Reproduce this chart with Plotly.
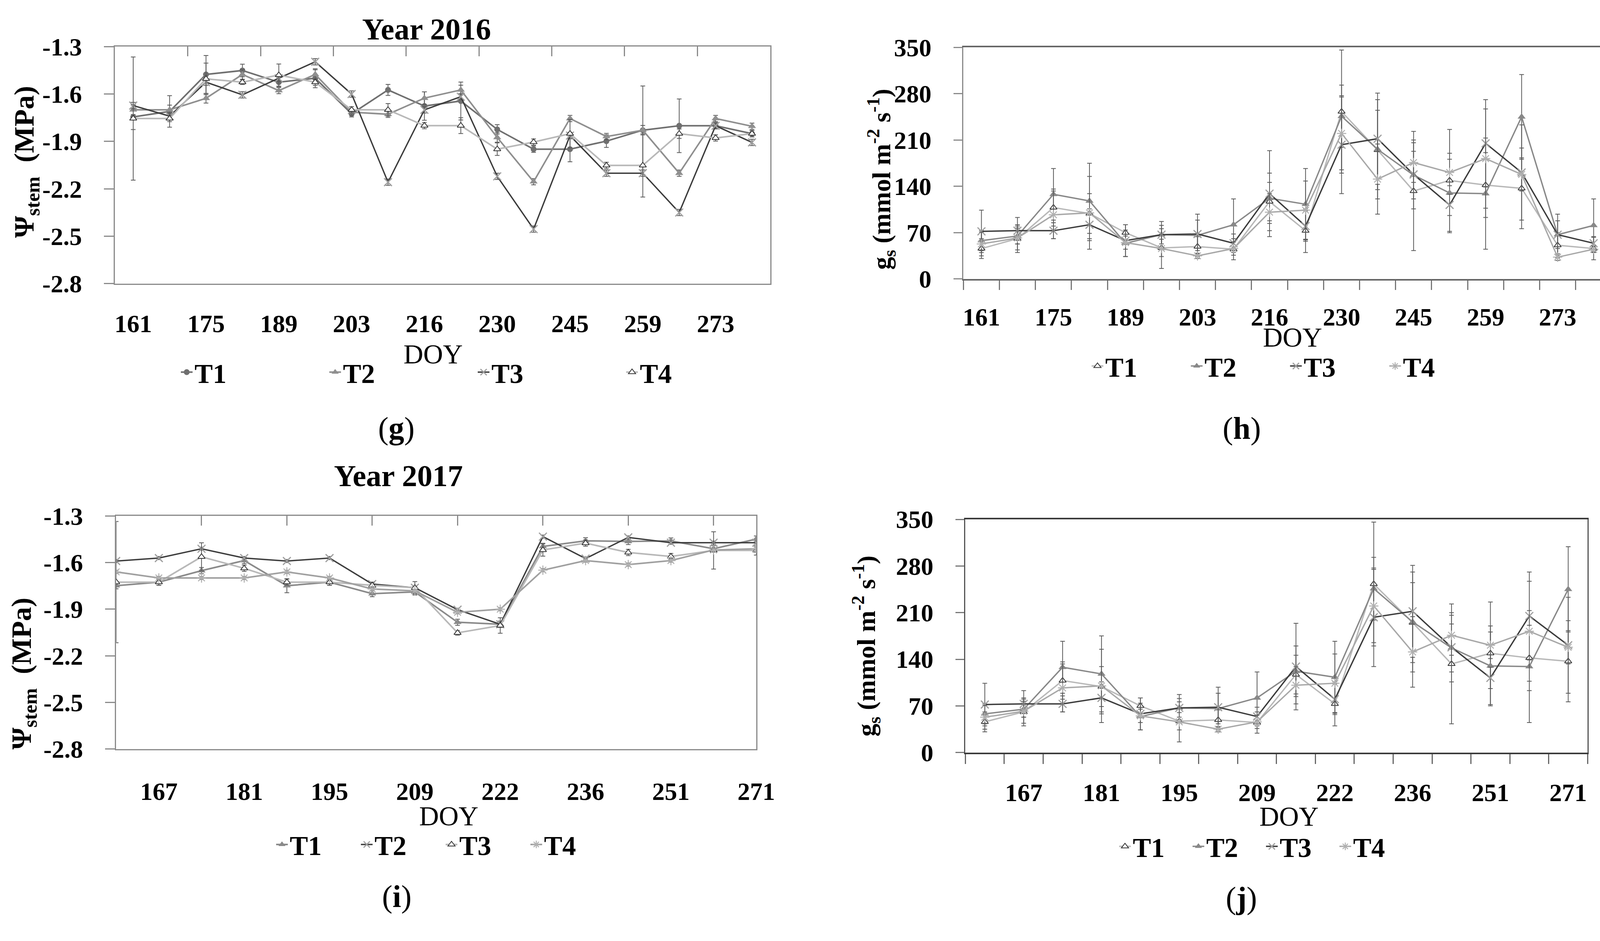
import plotly.graph_objects as go

W, H = 4200, 2408
FONT = "Liberation Serif"

# ---------------- data ----------------
doy_2016 = [161, 168, 175, 182, 189, 196, 203, 210, 216, 223, 230, 237, 245, 252, 259, 266, 273, 280]
doy_2017 = [160, 167, 174, 181, 188, 195, 202, 209, 216, 222, 229, 236, 243, 251, 262, 271]
shown_2016 = [161, 175, 189, 203, 216, 230, 245, 259, 273]
shown_2017 = [167, 181, 195, 209, 222, 236, 251, 271]
psi_ticks = [-2.8, -2.5, -2.2, -1.9, -1.6, -1.3]
gs_ticks = [0, 70, 140, 210, 280, 350]

# (g) stem water potential 2016 (MPa)
psi16_T1 = [-1.745, -1.71, -1.476, -1.451, -1.525, -1.50, -1.725, -1.574, -1.676, -1.644, -1.824, -1.949, -1.949, -1.898, -1.829, -1.801, -1.801, -1.851]
psi16_T2 = [-1.70, -1.70, -1.627, -1.476, -1.578, -1.476, -1.715, -1.728, -1.626, -1.574, -1.875, -2.155, -1.755, -1.869, -1.829, -2.101, -1.755, -1.804]
psi16_T3 = [-1.673, -1.74, -1.525, -1.605, -1.50, -1.396, -1.60, -2.158, -1.70, -1.617, -2.121, -2.455, -1.863, -2.101, -2.101, -2.35, -1.801, -1.906]
psi16_T4 = [-1.755, -1.755, -1.504, -1.525, -1.48, -1.525, -1.70, -1.70, -1.80, -1.80, -1.949, -1.904, -1.851, -2.052, -2.052, -1.851, -1.878, -1.851]
psi16_T1_err = [0.08, 0.10, 0.12, 0.04, 0.03, 0.06, 0.02, 0.035, 0.09, 0.12, 0.03, 0.02, 0.08, 0.04, 0.28, 0.17, 0.02, 0.02]
psi16_T2_err = [0.03, 0.03, 0.03, 0.03, 0.02, 0.03, 0.02, 0.02, 0.04, 0.03, 0.03, 0.02, 0.02, 0.02, 0.03, 0.02, 0.02, 0.02]
psi16_T3_err = [0.02, 0.02, 0.02, 0.02, 0.02, 0.02, 0.02, 0.02, 0.02, 0.02, 0.02, 0.02, 0.02, 0.02, 0.02, 0.02, 0.02, 0.02]
psi16_T4_err = [0.39, 0.02, 0.10, 0.015, 0.07, 0.02, 0.02, 0.04, 0.02, 0.05, 0.04, 0.02, 0.09, 0.02, 0.20, 0.03, 0.02, 0.02]

# (h) stomatal conductance 2016 (mmol m-2 s-1)
gs16_T1 = [46, 61, 108, 99, 70, 47, 49, 45, 117, 73, 253, 195, 133, 149, 142, 137, 51, 46]
gs16_T2 = [58, 65, 128, 118, 54, 67, 66, 82, 122, 113, 246, 196, 157, 130, 129, 245, 67, 81]
gs16_T3 = [72, 73, 73, 82, 58, 67, 68, 54, 129, 80, 203, 212, 158, 112, 205, 161, 67, 54]
gs16_T4 = [53, 62, 97, 100, 55, 46, 35, 46, 101, 104, 220, 151, 176, 161, 182, 158, 33, 45]
gs16_T1_err = [15, 21, 28, 30, 12, 13, 15, 16, 29, 33, 93, 60, 90, 77, 49, 61, 19, 17]
gs16_T2_err = [15, 12, 39, 57, 20, 14, 23, 39, 38, 54, 47, 75, 36, 60, 84, 64, 21, 40]
gs16_T3_err = [32, 20, 12, 24, 24, 20, 30, 14, 65, 23, 74, 69, 52, 16, 66, 72, 31, 10]
gs16_T4_err = [18, 18, 36, 55, 10, 30, 4, 10, 28, 44, 55, 53, 30, 20, 75, 25, 5, 5]

# (i) stem water potential 2017 (MPa)
psi17_T1 = [-1.749, -1.726, -1.652, -1.587, -1.749, -1.726, -1.80, -1.789, -1.984, -1.997, -1.496, -1.46, -1.464, -1.461, -1.511, -1.449]
psi17_T2 = [-1.59, -1.571, -1.511, -1.571, -1.59, -1.571, -1.738, -1.762, -1.903, -1.997, -1.433, -1.574, -1.438, -1.472, -1.472, -1.472]
psi17_T3 = [-1.726, -1.726, -1.563, -1.637, -1.726, -1.726, -1.746, -1.762, -2.052, -2.005, -1.519, -1.475, -1.535, -1.561, -1.522, -1.522]
psi17_T4 = [-1.66, -1.699, -1.699, -1.699, -1.66, -1.699, -1.77, -1.782, -1.92, -1.90, -1.649, -1.587, -1.613, -1.587, -1.519, -1.511]
psi17_T1_err = [0.02, 0.02, 0.02, 0.02, 0.045, 0.02, 0.02, 0.02, 0.02, 0.02, 0.02, 0.02, 0.02, 0.02, 0.02, 0.02]
psi17_T2_err = [0.01, 0.01, 0.01, 0.01, 0.01, 0.01, 0.01, 0.01, 0.01, 0.01, 0.01, 0.01, 0.01, 0.01, 0.01, 0.01]
psi17_T3_err = [0.39, 0.02, 0.09, 0.02, 0.02, 0.02, 0.02, 0.04, 0.015, 0.05, 0.04, 0.02, 0.02, 0.02, 0.12, 0.03]
psi17_T4_err = [0.01, 0.01, 0.01, 0.01, 0.01, 0.01, 0.01, 0.01, 0.01, 0.01, 0.01, 0.01, 0.01, 0.01, 0.01, 0.01]

# (j) stomatal conductance 2017 (mmol m-2 s-1)
gs17_T1 = [46, 61, 108, 99, 70, 47, 49, 45, 117, 73, 253, 195, 133, 149, 142, 137]
gs17_T2 = [58, 65, 128, 118, 54, 67, 66, 82, 122, 113, 246, 196, 157, 130, 129, 245]
gs17_T3 = [72, 73, 73, 82, 58, 67, 68, 54, 129, 80, 203, 212, 158, 112, 205, 161]
gs17_T4 = [53, 62, 97, 100, 55, 46, 35, 46, 101, 104, 220, 151, 176, 161, 182, 158]
gs17_T1_err = [15, 21, 28, 30, 12, 13, 15, 16, 29, 33, 93, 60, 90, 77, 49, 61]
gs17_T2_err = [15, 12, 39, 57, 20, 14, 23, 39, 38, 54, 47, 75, 36, 60, 84, 64]
gs17_T3_err = [32, 20, 12, 24, 24, 20, 30, 14, 65, 23, 74, 69, 52, 16, 66, 72]
gs17_T4_err = [18, 18, 36, 55, 10, 30, 4, 10, 28, 44, 55, 53, 30, 20, 75, 25]

# ---------------- helpers ----------------
# small empirical correction so that positions land where they are in the reference photo
OFF_X, SC_X = 9.0, 0.997
OFF_Y, SC_Y = 37.6, 0.994

def X(x):
    return (x - OFF_X) / SC_X

def Y(y):
    return (y - OFF_Y) / SC_Y

def px(x):
    return X(x) / W

def py(y):
    return 1 - Y(y) / H

def dom_x(l, r):
    return [px(l), px(r)]

def dom_y(t, b):
    return [py(b), py(t)]

def m_circle(c):
    return dict(symbol="circle", size=15, color=c, line=dict(width=0))

def m_tri(c):
    return dict(symbol="triangle-up", size=18, color=c, line=dict(width=0))

def m_tri_open():
    return dict(symbol="triangle-up", size=16, color="white", line=dict(color="#333333", width=2))

def m_x(c):
    return dict(symbol="x-thin", size=20, color=c, line=dict(color=c, width=3))

def m_ast(c):
    return dict(symbol="asterisk", size=20, color=c, line=dict(color=c, width=2.5))

fig = go.Figure()

def add(xa, ya, leg, name, xs, ys, err, color, marker, lw=4):
    fig.add_trace(go.Scatter(
        x=xs, y=ys, mode="lines+markers", name=name,
        xaxis=xa, yaxis=ya, legend=leg,
        line=dict(color=color, width=lw),
        marker=marker,
        error_y=dict(type="data", array=err, visible=True, color="#5a5a5a", thickness=2, width=6),
        hoverinfo="skip"))

x16 = list(range(len(doy_2016)))
x17 = list(range(len(doy_2017)))
XMARK = "#a0a0a0"

# (g)
add("x", "y", "legend", "T1", x16, psi16_T1, psi16_T1_err, "#6f6f6f", m_circle("#6f6f6f"))
add("x", "y", "legend", "T2", x16, psi16_T2, psi16_T2_err, "#8f8f8f", m_tri("#8f8f8f"))
add("x", "y", "legend", "T3", x16, psi16_T3, psi16_T3_err, "#3c3c3c", m_x(XMARK), lw=3.5)
add("x", "y", "legend", "T4", x16, psi16_T4, psi16_T4_err, "#b8b8b8", m_tri_open())

# (h)
add("x2", "y2", "legend2", "T1", x16, gs16_T1, gs16_T1_err, "#b8b8b8", m_tri_open(), lw=3.5)
add("x2", "y2", "legend2", "T2", x16, gs16_T2, gs16_T2_err, "#888888", m_tri("#888888"), lw=3.5)
add("x2", "y2", "legend2", "T3", x16, gs16_T3, gs16_T3_err, "#3c3c3c", m_x(XMARK), lw=3.5)
add("x2", "y2", "legend2", "T4", x16, gs16_T4, gs16_T4_err, "#a8a8a8", m_ast("#b0b0b0"), lw=3.5)

# (i)
add("x3", "y3", "legend3", "T1", x17, psi17_T1, psi17_T1_err, "#8a8a8a", m_tri("#8a8a8a"))
add("x3", "y3", "legend3", "T2", x17, psi17_T2, psi17_T2_err, "#3c3c3c", m_x(XMARK), lw=3.5)
add("x3", "y3", "legend3", "T3", x17, psi17_T3, psi17_T3_err, "#b8b8b8", m_tri_open())
add("x3", "y3", "legend3", "T4", x17, psi17_T4, psi17_T4_err, "#a0a0a0", m_ast("#b0b0b0"))

# (j)
add("x4", "y4", "legend4", "T1", x17, gs17_T1, gs17_T1_err, "#b8b8b8", m_tri_open(), lw=3.5)
add("x4", "y4", "legend4", "T2", x17, gs17_T2, gs17_T2_err, "#888888", m_tri("#888888"), lw=3.5)
add("x4", "y4", "legend4", "T3", x17, gs17_T3, gs17_T3_err, "#3c3c3c", m_x(XMARK), lw=3.5)
add("x4", "y4", "legend4", "T4", x17, gs17_T4, gs17_T4_err, "#a8a8a8", m_ast("#b0b0b0"), lw=3.5)

# invisible carriers for the top tick-mark axes of (g) and (i)
fig.add_trace(go.Scatter(x=x16, y=psi16_T1, xaxis="x5", yaxis="y", mode="markers",
                         marker=dict(opacity=0), showlegend=False, hoverinfo="skip"))
fig.add_trace(go.Scatter(x=x17, y=psi17_T1, xaxis="x6", yaxis="y3", mode="markers",
                         marker=dict(opacity=0), showlegend=False, hoverinfo="skip"))

tickfont = dict(family=FONT, size=64, color="black", weight="bold")
GRAY = "#8a8a8a"

lab16_idx = [doy_2016.index(d) for d in shown_2016]
lab17_idx = [doy_2017.index(d) for d in shown_2017]
psi_text = ["%.1f" % v for v in psi_ticks]   # plain hyphen-minus like the original
gs_text = [str(v) for v in gs_ticks]

common_x = dict(showgrid=False, zeroline=False, tickfont=tickfont, tickmode="array")
common_y = dict(showgrid=False, zeroline=False, tickfont=tickfont, ticks="outside",
                ticklen=25, tickwidth=3, showline=True, mirror=True, tickmode="array")

fig.update_layout(
    width=W, height=H, autosize=False,
    margin=dict(l=0, r=0, t=0, b=0),
    paper_bgcolor="white", plot_bgcolor="white",
    font=dict(family=FONT, color="black"),
    # (g)
    xaxis=dict(common_x, domain=dom_x(305, 1997), anchor="y", range=[-0.5, len(x16) - 0.5],
               tickvals=lab16_idx, ticktext=[str(d) for d in shown_2016], ticks="",
               showline=True, mirror=True, linecolor=GRAY, linewidth=3, ticklabelstandoff=45),
    yaxis=dict(common_y, domain=dom_y(124, 745), anchor="x", range=[-2.8, -1.3],
               tickvals=psi_ticks, ticktext=psi_text, linecolor=GRAY, linewidth=3,
               tickcolor=GRAY, ticklabelstandoff=44),
    xaxis5=dict(overlaying="x", anchor="y", side="top", range=[-0.5, len(x16) - 0.5],
                tickmode="array", tickvals=[i + 0.5 for i in x16[1:-1:2]],
                ticks="inside", ticklen=25, tickwidth=3, tickcolor=GRAY,
                showticklabels=False, showline=False, showgrid=False, zeroline=False),
    # (h)
    xaxis2=dict(common_x, domain=dom_x(2496, 4170), anchor="y2", range=[-0.5, len(x16) - 0.5],
                tickvals=lab16_idx, ticktext=[str(d) for d in shown_2016], ticks="",
                minor=dict(tickmode="linear", tick0=-0.5, dtick=1, ticks="outside",
                           ticklen=24, tickwidth=3, tickcolor="#777777", showgrid=False),
                showline=True, mirror=True, linecolor="#666666", linewidth=4, ticklabelstandoff=38),
    yaxis2=dict(common_y, domain=dom_y(126, 733), anchor="x2", range=[0, 350],
                tickvals=gs_ticks, ticktext=gs_text, linecolor=GRAY, linewidth=3, tickcolor=GRAY,
                ticklen=22, ticklabelstandoff=44),
    # (i)
    xaxis3=dict(common_x, domain=dom_x(308, 1961), anchor="y3", range=[0, len(x17) - 1],
                tickvals=lab17_idx, ticktext=[str(d) for d in shown_2017], ticks="",
                showline=True, mirror=True, linecolor=GRAY, linewidth=3, ticklabelstandoff=50),
    yaxis3=dict(common_y, domain=dom_y(1354, 1965), anchor="x3", range=[-2.8, -1.3],
                tickvals=psi_ticks, ticktext=psi_text, linecolor=GRAY, linewidth=3,
                tickcolor=GRAY, ticklabelstandoff=44),
    xaxis6=dict(overlaying="x3", anchor="y3", side="top", range=[0, len(x17) - 1],
                tickmode="array", tickvals=x17[2:-1:2],
                ticks="inside", ticklen=25, tickwidth=3, tickcolor=GRAY,
                showticklabels=False, showline=False, showgrid=False, zeroline=False),
    # (j)
    xaxis4=dict(common_x, domain=dom_x(2501, 4108), anchor="y4", range=[-0.5, len(x17) - 0.5],
                tickvals=lab17_idx, ticktext=[str(d) for d in shown_2017], ticks="",
                minor=dict(tickmode="linear", tick0=-0.5, dtick=1, ticks="outside",
                           ticklen=25, tickwidth=3, tickcolor="#666666", showgrid=False),
                showline=True, mirror=True, linecolor="#3a3a3a", linewidth=4, ticklabelstandoff=44),
    yaxis4=dict(common_y, domain=dom_y(1363, 1974), anchor="x4", range=[0, 350],
                tickvals=gs_ticks, ticktext=gs_text, linecolor="#555555", linewidth=3,
                tickcolor="#777777", ticklen=22, ticklabelstandoff=44),
)

legfont = dict(family=FONT, size=70, color="black", weight="bold")
def leg(x_px, y_px, spacing):
    return dict(orientation="h", x=px(x_px), y=py(y_px), xanchor="left", yanchor="middle",
                entrywidth=spacing - 49, entrywidthmode="pixels", font=legfont,
                bgcolor="rgba(0,0,0,0)", borderwidth=0, traceorder="normal")

fig.update_layout(
    legend=leg(470, 977, 384),
    legend2=leg(2822, 961, 258),
    legend3=leg(716, 2215, 221),
    legend4=leg(2893, 2220, 192),
)

ann = []
def text(x, y, t, size, bold=False, angle=0):
    ann.append(dict(x=px(x), y=py(y), xref="paper", yref="paper", text=t, showarrow=False,
                    xanchor="center", yanchor="middle", textangle=angle,
                    font=dict(family=FONT, size=size, color="black",
                              weight="bold" if bold else "normal")))

text(1110, 78, "Year 2016", 78, bold=True)
text(1037, 1249, "Year 2017", 78, bold=True)
text(1127, 930, "DOY", 70)
text(3346, 886, "DOY", 70)
text(1167, 2141, "DOY", 70)
text(3337, 2142, "DOY", 70)
text(76, 426, "Ψ<sub>stem</sub>  (MPa)", 72, bold=True, angle=-90)
text(68, 1767, "Ψ<sub>stem</sub>  (MPa)", 72, bold=True, angle=-90)
text(2284, 472, "g<sub>s</sub> (mmol m<sup>-2</sup> s<sup>-1</sup>)", 66, bold=True, angle=-90)
text(2245, 1695, "g<sub>s</sub> (mmol m<sup>-2</sup> s<sup>-1</sup>)", 66, bold=True, angle=-90)
text(1031, 1125, "(<b>g</b>)", 80)
text(3215, 1125, "(<b>h</b>)", 80)
text(1033, 2352, "(<b>i</b>)", 80)
text(3214, 2356, "(<b>j</b>)", 80)
fig.update_layout(annotations=ann)

post = ("var gd=document.getElementById('{plot_id}');"
        "document.body.style.margin='0';"
        "gd.style.position='absolute';gd.style.left='0px';gd.style.top='0px';")
fig.write_html("out.html", config={"displayModeBar": False}, post_script=post)
